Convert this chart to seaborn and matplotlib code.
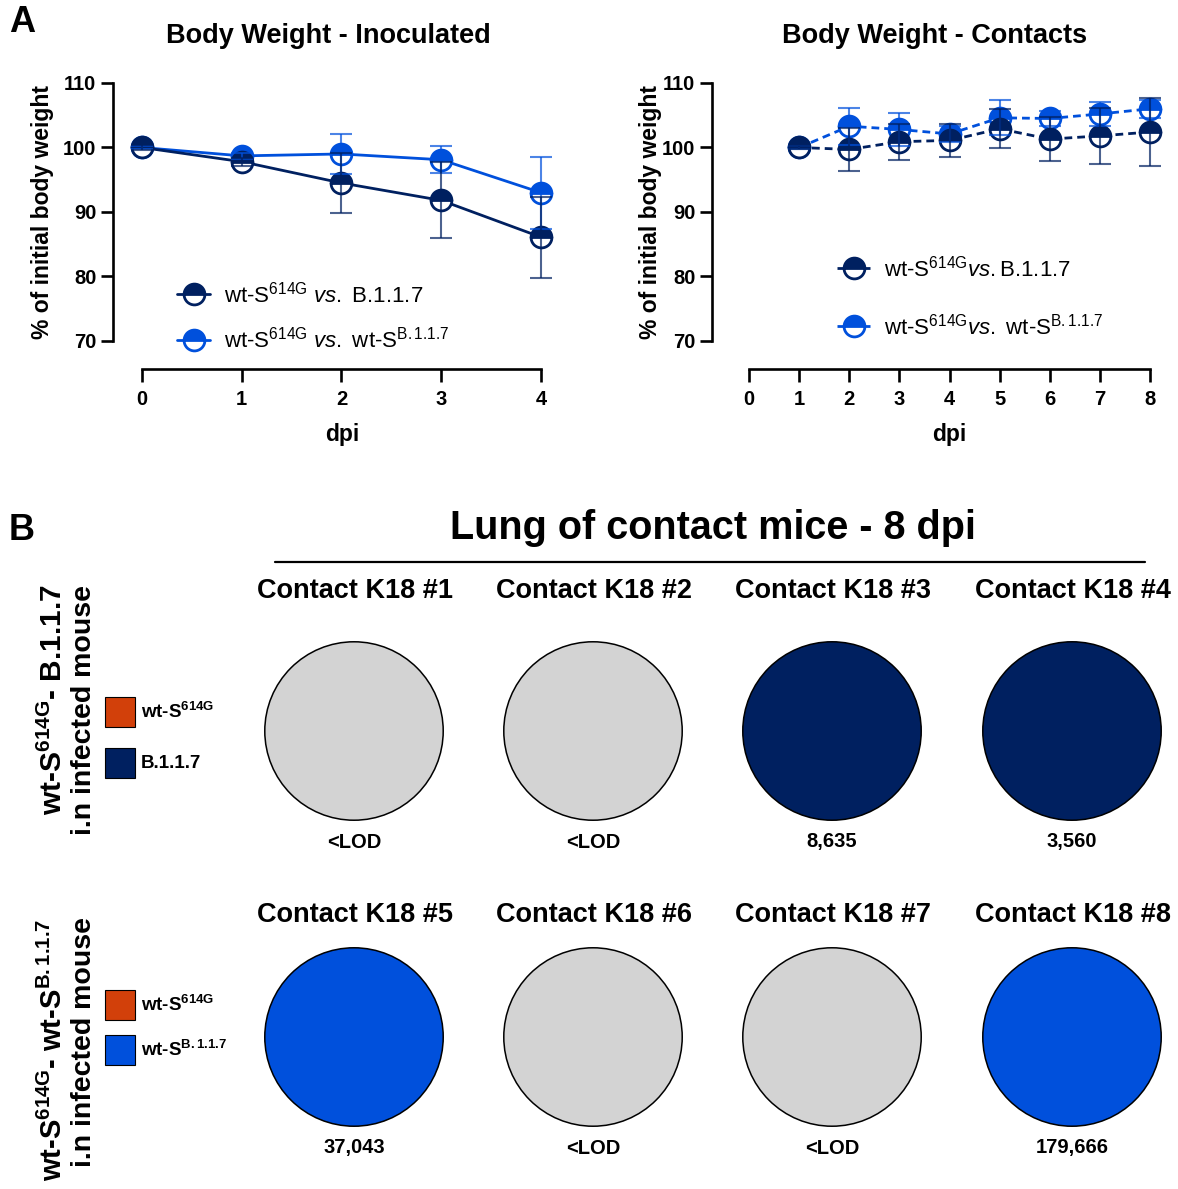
import numpy as np
import pandas as pd
import matplotlib
matplotlib.use("Agg")
import matplotlib.pyplot as plt
import seaborn as sns
from matplotlib.lines import Line2D
from matplotlib.patches import Circle, Rectangle

# ---------------- data ----------------
inoc_dpi = [0, 1, 2, 3, 4]
inoc_b117_mean = [100.0, 97.8, 94.5, 91.8, 86.1]
inoc_b117_sd = [0.4, 0.6, 4.7, 5.9, 6.3]
inoc_wts_mean = [100.0, 98.7, 99.0, 98.1, 93.0]
inoc_wts_sd = [0.3, 0.5, 3.1, 2.1, 5.6]

cont_dpi = [1, 2, 3, 4, 5, 6, 7, 8]
cont_b117_mean = [100.0, 99.7, 100.9, 101.1, 102.9, 101.3, 101.8, 102.4]
cont_b117_sd = [0.2, 3.4, 2.8, 2.5, 3.0, 3.4, 4.4, 5.2]
cont_wts_mean = [100.0, 103.3, 102.8, 102.1, 104.6, 104.5, 105.2, 106.0]
cont_wts_sd = [0.2, 2.9, 2.5, 1.3, 2.7, 1.2, 1.8, 1.4]

contact_names = ["Contact K18 #1", "Contact K18 #2", "Contact K18 #3", "Contact K18 #4",
                 "Contact K18 #5", "Contact K18 #6", "Contact K18 #7", "Contact K18 #8"]
lung_copies = [None, None, 8635, 3560, 37043, None, None, 179666]
share_614g = [0, 0, 0, 0, 0, 0, 0, 0]   # % of reads assigned to wt-S614G

NAVY = "#002060"
BLUE = "#0050DC"
ORANGE = "#D2400A"
GREY = "#D3D3D3"

# ---------------- style ----------------
sns.set_theme(style="ticks")
plt.rcParams["font.family"] = ["Liberation Sans", "DejaVu Sans"]
plt.rcParams["mathtext.fontset"] = "custom"
plt.rcParams["mathtext.rm"] = "Liberation Sans"
plt.rcParams["mathtext.it"] = "Liberation Sans:italic"
plt.rcParams["mathtext.bf"] = "Liberation Sans:bold"
plt.rcParams["mathtext.default"] = "regular"
for key in ("text.color", "axes.labelcolor", "xtick.color", "ytick.color",
            "axes.edgecolor"):
    plt.rcParams[key] = "black"

W, H = 1178, 1189
fig = plt.figure(figsize=(W / 100, H / 100), dpi=100)


def box(l, t, r, b):
    return [l / W, 1 - b / H, (r - l) / W, (b - t) / H]


def ftext(x, y, s, **kw):
    return fig.text(x / W, 1 - y / H, s, **kw)


def style_axis(ax, xmax):
    sns.despine(ax=ax)
    for side in ("left", "bottom"):
        ax.spines[side].set_linewidth(1.9)
        ax.spines[side].set_color("black")
    ax.spines["bottom"].set_position(("outward", 20))
    ax.spines["bottom"].set_bounds(0, xmax)
    ax.spines["left"].set_bounds(70, 110)
    ax.set_ylim(70, 110)
    ax.set_yticks([70, 80, 90, 100, 110])
    ax.set_xticks(range(0, xmax + 1))
    ax.tick_params(axis="both", length=9, width=1.9, color="black",
                   labelcolor="black", labelsize=14.5, pad=3)
    ax.tick_params(axis="x", pad=6)
    for lab in ax.get_xticklabels() + ax.get_yticklabels():
        lab.set_fontweight("bold")
    ax.set_xlabel("")
    ax.set_ylabel("")
    ax.grid(False)


def draw_series(ax, x, mean, sd, color, ls):
    sns.lineplot(x=x, y=mean, ax=ax, color=color, linestyle=ls, linewidth=2.0,
                 marker="o", markersize=15, fillstyle="top",
                 markerfacecoloralt="white", markeredgecolor=color,
                 markeredgewidth=2.0, zorder=3, clip_on=False)
    ax.errorbar(x, mean, yerr=sd, fmt="none", ecolor=color, elinewidth=1.5,
                capsize=8, capthick=1.5, alpha=0.7, zorder=4, clip_on=False)


def legend_handle(color, ls):
    return Line2D([], [], color=color, linestyle=ls, linewidth=2.0, marker="o",
                  markersize=15, fillstyle="top", markerfacecoloralt="white",
                  markeredgecolor=color, markeredgewidth=2.0)


# ---------------- panel A: inoculated ----------------
ax1 = fig.add_axes(box(113, 83, 551, 341))
ax1.set_xlim(-0.29, 4.1)
draw_series(ax1, inoc_dpi, inoc_wts_mean, inoc_wts_sd, BLUE, "-")
draw_series(ax1, inoc_dpi, inoc_b117_mean, inoc_b117_sd, NAVY, "-")
style_axis(ax1, 4)
ax1.legend(
    [legend_handle(NAVY, "-"), legend_handle(BLUE, "-")],
    [r"wt-S$^{614G}$ $\mathit{vs.}$ B.1.1.7",
     r"wt-S$^{614G}$ $\mathit{vs.}$ wt-S$^{B.1.1.7}$"],
    loc="upper left", bbox_to_anchor=(166 / W, 1 - 270 / H),
    bbox_transform=fig.transFigure, frameon=False, fontsize=16,
    handlelength=1.5, handletextpad=0.6, labelspacing=0.9, borderpad=0)

# ---------------- panel A: contacts ----------------
ax2 = fig.add_axes(box(712, 83, 1160, 341))
ax2.set_xlim(-0.74, 8.2)
dash = (0, (2.8, 1.8))
draw_series(ax2, cont_dpi, cont_wts_mean, cont_wts_sd, BLUE, dash)
draw_series(ax2, cont_dpi, cont_b117_mean, cont_b117_sd, NAVY, dash)
style_axis(ax2, 8)
ax2.legend(
    [legend_handle(NAVY, dash), legend_handle(BLUE, dash)],
    [r"wt-S$^{614G}$$\mathit{vs.}$B.1.1.7",
     r"wt-S$^{614G}$$\mathit{vs.}$ wt-S$^{B.1.1.7}$"],
    loc="upper left", bbox_to_anchor=(826 / W, 1 - 244 / H),
    bbox_transform=fig.transFigure, frameon=False, fontsize=16,
    handlelength=1.5, handletextpad=0.6, labelspacing=1.45, borderpad=0)

# titles and axis labels of panel A
ftext(22, 22, "A", fontsize=26, fontweight="bold", ha="center", va="center")
ftext(328, 36, "Body Weight - Inoculated", fontsize=19.5, fontweight="bold",
      ha="center", va="center")
ftext(935, 36, "Body Weight - Contacts", fontsize=19.5, fontweight="bold",
      ha="center", va="center")
for x0 in (42, 650):
    ftext(x0, 212, "% of initial body weight", fontsize=16.5, fontweight="bold",
          rotation=90, ha="center", va="center")
ftext(342, 434, "dpi", fontsize=16.5, fontweight="bold", ha="center", va="center")
ftext(949, 434, "dpi", fontsize=16.5, fontweight="bold", ha="center", va="center")

# ---------------- panel B ----------------
ftext(22, 530, "B", fontsize=26, fontweight="bold", ha="center", va="center")
ftext(713, 528, "Lung of contact mice - 8 dpi", fontsize=28.5, fontweight="bold",
      ha="center", va="center")
fig.add_artist(Line2D([275 / W, 1145 / W], [1 - 562 / H, 1 - 562 / H],
                      color="black", linewidth=1.6))

pie_cx = [354, 593, 832, 1072]
row_cy = [731, 1037]
header_y = [591, 915]
value_y = [842, 1148]
variant_colors = [[ORANGE, NAVY], [ORANGE, BLUE]]
R = 89

for i, name in enumerate(contact_names):
    row, col = divmod(i, 4)
    cx, cy = pie_cx[col], row_cy[row]
    ax = fig.add_axes(box(cx - R - 2, cy - R - 2, cx + R + 2, cy + R + 2))
    if lung_copies[i] is None:
        ax.pie([100], colors=[GREY], radius=1.0, startangle=90,
               wedgeprops=dict(edgecolor="none"))
        label = "<LOD"
    else:
        ax.pie([share_614g[i], 100 - share_614g[i]], colors=variant_colors[row],
               radius=1.0, startangle=90, counterclock=False,
               wedgeprops=dict(edgecolor="none"))
        label = f"{lung_copies[i]:,}"
    ax.add_patch(Circle((0, 0), 1.0, fill=False, edgecolor="black", linewidth=1.1))
    ax.set_xlim(-1.02, 1.02)
    ax.set_ylim(-1.02, 1.02)
    ax.set_aspect("equal")
    ax.axis("off")
    ftext(cx + 1, header_y[row], name, fontsize=19.5, fontweight="bold",
          ha="center", va="center")
    ftext(cx, value_y[row], label, fontsize=14.5, fontweight="bold",
          ha="center", va="center")

# row annotations and colour keys
ftext(53, 700, r"wt-S$^{\mathbf{614G}}$- B.1.1.7", fontsize=21.5, fontweight="bold",
      rotation=90, ha="center", va="center")
ftext(84, 710, "i.n infected mouse", fontsize=20.5, fontweight="bold",
      rotation=90, ha="center", va="center")
ftext(53, 1050, r"wt-S$^{\mathbf{614G}}$- wt-S$^{\mathbf{B.1.1.7}}$", fontsize=21,
      fontweight="bold", rotation=90, ha="center", va="center")
ftext(84, 1042, "i.n infected mouse", fontsize=20.5, fontweight="bold",
      rotation=90, ha="center", va="center")

key_labels = [[r"wt-S$^{\mathbf{614G}}$", "B.1.1.7"],
              [r"wt-S$^{\mathbf{614G}}$", r"wt-S$^{\mathbf{B.1.1.7}}$"]]
key_centers = [[712, 763], [1005, 1050]]
for row in range(2):
    for k in range(2):
        yc = key_centers[row][k]
        fig.add_artist(Rectangle(((105) / W, 1 - (yc + 15) / H), 30 / W, 30 / H,
                                 facecolor=variant_colors[row][k], edgecolor="black",
                                 linewidth=0.8, transform=fig.transFigure))
        ftext(141, yc, key_labels[row][k], fontsize=13.5, fontweight="bold",
              ha="left", va="center")

fig.savefig("out.png", dpi=100)
